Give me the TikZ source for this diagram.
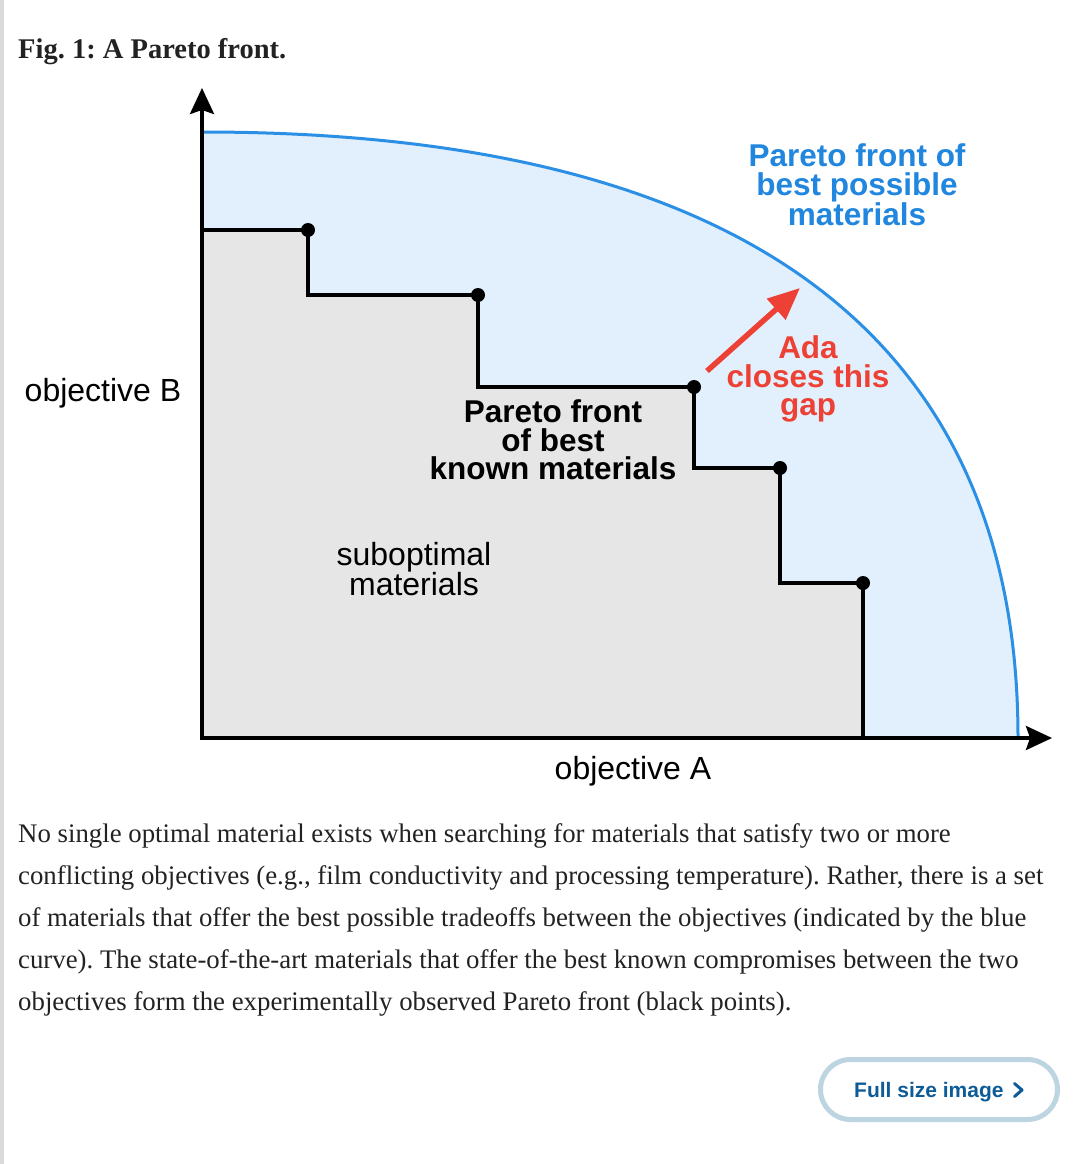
\documentclass[tikz,border=0pt]{standalone}
\usepackage{fontspec}
\setmainfont{Liberation Serif}
\newfontfamily\plotfont{Liberation Sans}
\usetikzlibrary{arrows.meta}
\definecolor{frontblue}{HTML}{2B8FE6}
\definecolor{frontfill}{HTML}{E1F0FC}
\definecolor{bluetext}{HTML}{2186DE}
\definecolor{knownfill}{HTML}{E6E6E6}
\definecolor{adared}{HTML}{EE4136}
\definecolor{captext}{HTML}{222222}
\definecolor{btnborder}{HTML}{BDD4E1}
\definecolor{btntext}{HTML}{0E5C97}
\definecolor{sidebar}{HTML}{DADADA}

\begin{document}
\frenchspacing
\begin{tikzpicture}[x=1pt,y=-1pt,
  plotlabel/.style={inner sep=0pt,align=center,font=\plotfont\fontsize{32}{28.5}\selectfont},
  boldlabel/.style={inner sep=0pt,align=center,font=\plotfont\bfseries\fontsize{31.5}{28.5}\selectfont},
  frontdot/.style={circle,fill=black,inner sep=0pt,minimum size=14pt},
  axis/.style={line width=3.5pt,{Stealth[length=26pt,width=24pt,inset=4pt]}-{Stealth[length=26pt,width=24pt,inset=4pt]}}]
\useasboundingbox[fill=white] (0,0) rectangle (1074,1164);
\fill[sidebar] (0,0) rectangle (4,1164);

\node[anchor=base west,inner sep=0pt,text=captext,font=\bfseries\fontsize{28.5}{30}\selectfont] (figtitle) at (18,59) {Fig. 1: A Pareto front.};

\coordinate (origin) at (202,738);
\coordinate (yend) at (202,88);
\coordinate (xend) at (1052,738);
\coordinate (bestB) at (202,132);
\coordinate (bestA) at (1018,738);
\foreach \n/\p in {1/{308,230},2/{478,295},3/{694,387},4/{780,468},5/{863,583}}
  \coordinate (k\n) at (\p);

\fill[frontfill] (origin) -- (bestB) .. controls (743,132) and (1018,336) .. (bestA) -- cycle;
\draw[frontblue,line width=3pt] (bestB) .. controls (743,132) and (1018,336) .. (bestA);
\fill[knownfill] (origin) |- (k1) |- (k2) |- (k3) |- (k4) |- (k5) |- (origin) -- cycle;
\draw[line width=3.5pt] (origin |- k1) -- (k1) |- (k2) |- (k3) |- (k4) |- (k5) -- (k5 |- origin);
\draw[axis] (yend) -- (origin) -- (xend);
\foreach \n in {1,...,5}
  \node[frontdot] (dot\n) at (k\n) {};

\coordinate (gapfrom) at (707,371);
\coordinate (gapto) at (800,288);
\draw[adared,line width=5.5pt,-{Triangle[length=32pt,width=27pt]}] (gapfrom) -- (gapto);

\node[plotlabel,anchor=base] (objB) at (103,401.5) {objective B};
\node[plotlabel,anchor=base] (objA) at (633,779.5) {objective A};
\node[boldlabel,text=bluetext] (bestlbl) at (857,185) {Pareto front of\\best possible\\materials};
\node[boldlabel] (knownlbl) at (553,440) {Pareto front\\of best\\known materials};
\node[boldlabel,text=adared] (adalbl) at (808,379) {Ada\\closes this\\gap};
\node[plotlabel] (subopt) at (414,569) {suboptimal\\materials};

\node[anchor=north west,inner sep=0pt,align=left,text=captext,font=\fontsize{26.8}{42}\selectfont] (figcaption) at (18,823) {No single optimal material exists when searching for materials that satisfy two or more\\
conflicting objectives (e.g., film conductivity and processing temperature). Rather, there is a set\\
of materials that offer the best possible tradeoffs between the objectives (indicated by the blue\\
curve). The state-of-the-art materials that offer the best known compromises between the two\\
objectives form the experimentally observed Pareto front (black points).};

\node[draw=btnborder,line width=5pt,rounded corners=30pt,minimum width=237pt,minimum height=60pt,inner sep=0pt] (fullsize) at (939,1089.5) {};
\node[anchor=base west,inner sep=0pt,text=btntext,font=\plotfont\bfseries\fontsize{21}{24}\selectfont] (fullsizetxt) at (854,1097) {Full size image};
\draw[btntext,line width=3pt,line cap=round,line join=round] (1014.5,1083.5) -- (1022,1090) -- (1014.5,1096.5);
\end{tikzpicture}
\end{document}
